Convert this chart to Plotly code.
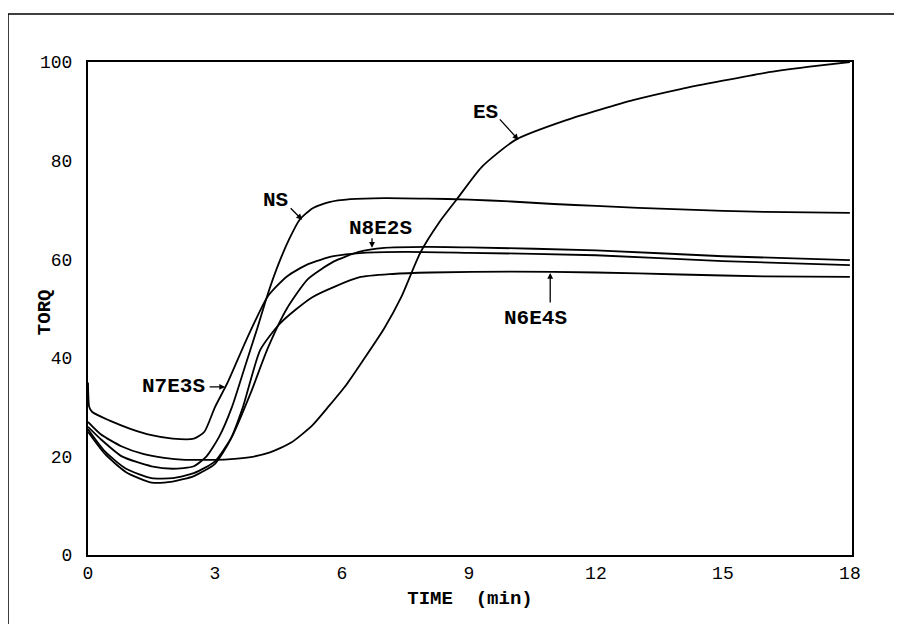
import plotly.graph_objects as go

# ---------------- data ----------------
x_ticks = [0, 3, 6, 9, 12, 15, 18]
y_ticks = [0, 20, 40, 60, 80, 100]

ns_t = [0, 0.3, 0.8, 1.5, 2.0, 2.5, 2.8, 3.1, 3.4, 3.7, 4.0, 4.25, 4.5, 4.75, 5.0, 5.3, 5.7, 6.2, 7.0, 8.0, 9.0, 10, 11, 12, 13, 14, 15, 16, 17, 18]
ns_v = [26, 23.5, 20, 18, 17.5, 18, 20, 24, 30, 38, 46, 53, 59, 64, 68, 70.3, 71.6, 72.2, 72.4, 72.3, 72.1, 71.7, 71.2, 70.8, 70.4, 70.1, 69.8, 69.6, 69.5, 69.4]

es_t = [0, 0.3, 0.8, 1.3, 1.8, 2.3, 2.8, 3.3, 3.8, 4.3, 4.8, 5.3, 5.7, 6.1, 6.5, 7.0, 7.4, 7.85, 8.3, 8.7, 9.3, 10.1, 11.3, 12.9, 14, 15, 16, 17, 18]
es_v = [27, 24.5, 22, 20.5, 19.7, 19.3, 19.3, 19.4, 19.8, 20.8, 22.8, 26.3, 30.3, 34.5, 39.5, 46, 52.3, 61.3, 67.5, 72, 78.7, 84.2, 88.2, 92.3, 94.5, 96.2, 97.8, 99, 100]

n7e3s_t = [0, 0.03, 0.1, 0.5, 1.0, 1.5, 2.0, 2.5, 2.75, 3.0, 3.3, 3.76, 4.25, 4.7, 5.2, 5.8, 6.5, 7.5, 9, 12, 15, 18]
n7e3s_v = [35, 30, 29, 27.3, 25.6, 24.3, 23.6, 23.6, 25, 30, 35, 44, 52.5, 56.5, 59, 60.6, 61.3, 61.5, 61.3, 60.8, 59.6, 58.8]

n8e2s_t = [0, 0.4, 0.9, 1.5, 2.0, 2.5, 3.0, 3.4, 3.85, 4.25, 4.7, 5.2, 5.8, 6.4, 7.0, 8.0, 9, 12, 15, 18]
n8e2s_v = [25.5, 21, 17.5, 15.6, 15.6, 16.6, 19, 24, 33, 42, 50, 56, 59.5, 61.5, 62.3, 62.5, 62.4, 61.8, 60.6, 59.8]

n6e4s_t = [0, 0.4, 0.9, 1.5, 2.0, 2.5, 3.0, 3.36, 3.66, 4.07, 4.54, 5.3, 6.4, 7.2, 8.1, 10, 12, 14, 16, 18]
n6e4s_v = [25, 20.5, 16.8, 14.7, 14.9, 16, 18.5, 23.3, 30, 41.6, 47, 52.3, 56.3, 57, 57.3, 57.5, 57.3, 56.9, 56.5, 56.4]

series = [("NS", ns_t, ns_v), ("ES", es_t, es_v), ("N7E3S", n7e3s_t, n7e3s_v),
          ("N8E2S", n8e2s_t, n8e2s_v), ("N6E4S", n6e4s_t, n6e4s_v)]

# label: (text, tip_t, tip_v, text_dx, text_dy, tail_dx, tail_dy)
labels = [
    ("ES", 10.17, 84.2, -33, -27, -20, -22),
    ("NS", 5.06, 68.0, -27, -19, -13, -13),
    ("N8E2S", 6.71, 62.3, 8, -19, 0, -11),
    ("N7E3S", 3.24, 34.1, -52, 0, -17, 0),
    ("N6E4S", 10.92, 57.2, -15, 45, 0, 31),
]

FONT = "Liberation Mono"

fig = go.Figure()
for name, t, v in series:
    fig.add_trace(go.Scatter(x=t, y=v, mode="lines", name=name,
                             line=dict(color="black", width=1.8, shape="spline", smoothing=0.6),
                             showlegend=False, hoverinfo="skip"))

anns = []
for text, tt, tv, dx, dy, adx, ady in labels:
    anns.append(dict(x=tt, y=tv, xref="x", yref="y", text="<b>%s</b>" % text,
                     showarrow=True, arrowcolor="rgba(0,0,0,0)", ax=dx, ay=dy,
                     font=dict(family=FONT, size=21, color="black")))
    anns.append(dict(x=tt, y=tv, xref="x", yref="y", text="", showarrow=True,
                     arrowhead=2, arrowsize=0.9, arrowwidth=1.3, arrowcolor="black",
                     ax=adx, ay=ady, font=dict(size=1)))

# y-axis title placed as a rotated annotation (sits closer to the axis than a normal title)
anns.append(dict(x=-0.056, y=0.493, xref="paper", yref="paper", text="<b>TORQ</b>",
                 textangle=-90, showarrow=False, xanchor="center", yanchor="middle",
                 font=dict(family=FONT, size=19, color="black")))

# page body adds an 8px offset, margins account for it
fig.update_layout(
    width=902, height=624,
    margin=dict(l=80, r=58, t=54, b=77),
    paper_bgcolor="white", plot_bgcolor="white",
    font=dict(family=FONT, size=14, color="black"),
    annotations=anns,
    shapes=[dict(type="rect", xref="paper", yref="paper",
                 x0=-0.1047, x1=1.2, y0=-0.3, y1=1.0974,
                 line=dict(color="black", width=1.5), layer="below")],
)
fig.update_xaxes(range=[0, 18.05], tickvals=x_ticks, ticktext=[str(v) for v in x_ticks],
                 showgrid=False, zeroline=False, showline=True, linecolor="black",
                 linewidth=2, mirror=True, ticks="",
                 tickfont=dict(family=FONT, size=18),
                 title=dict(text="<b>TIME  (min)</b>", font=dict(family=FONT, size=19), standoff=8))
fig.update_yaxes(range=[0, 100], tickvals=y_ticks, ticktext=[str(v) for v in y_ticks],
                 showgrid=False, zeroline=False, showline=True, linecolor="black",
                 linewidth=2, mirror=True, ticks="", ticklabelstandoff=10,
                 tickfont=dict(family=FONT, size=18))

fig.write_html("out.html")
